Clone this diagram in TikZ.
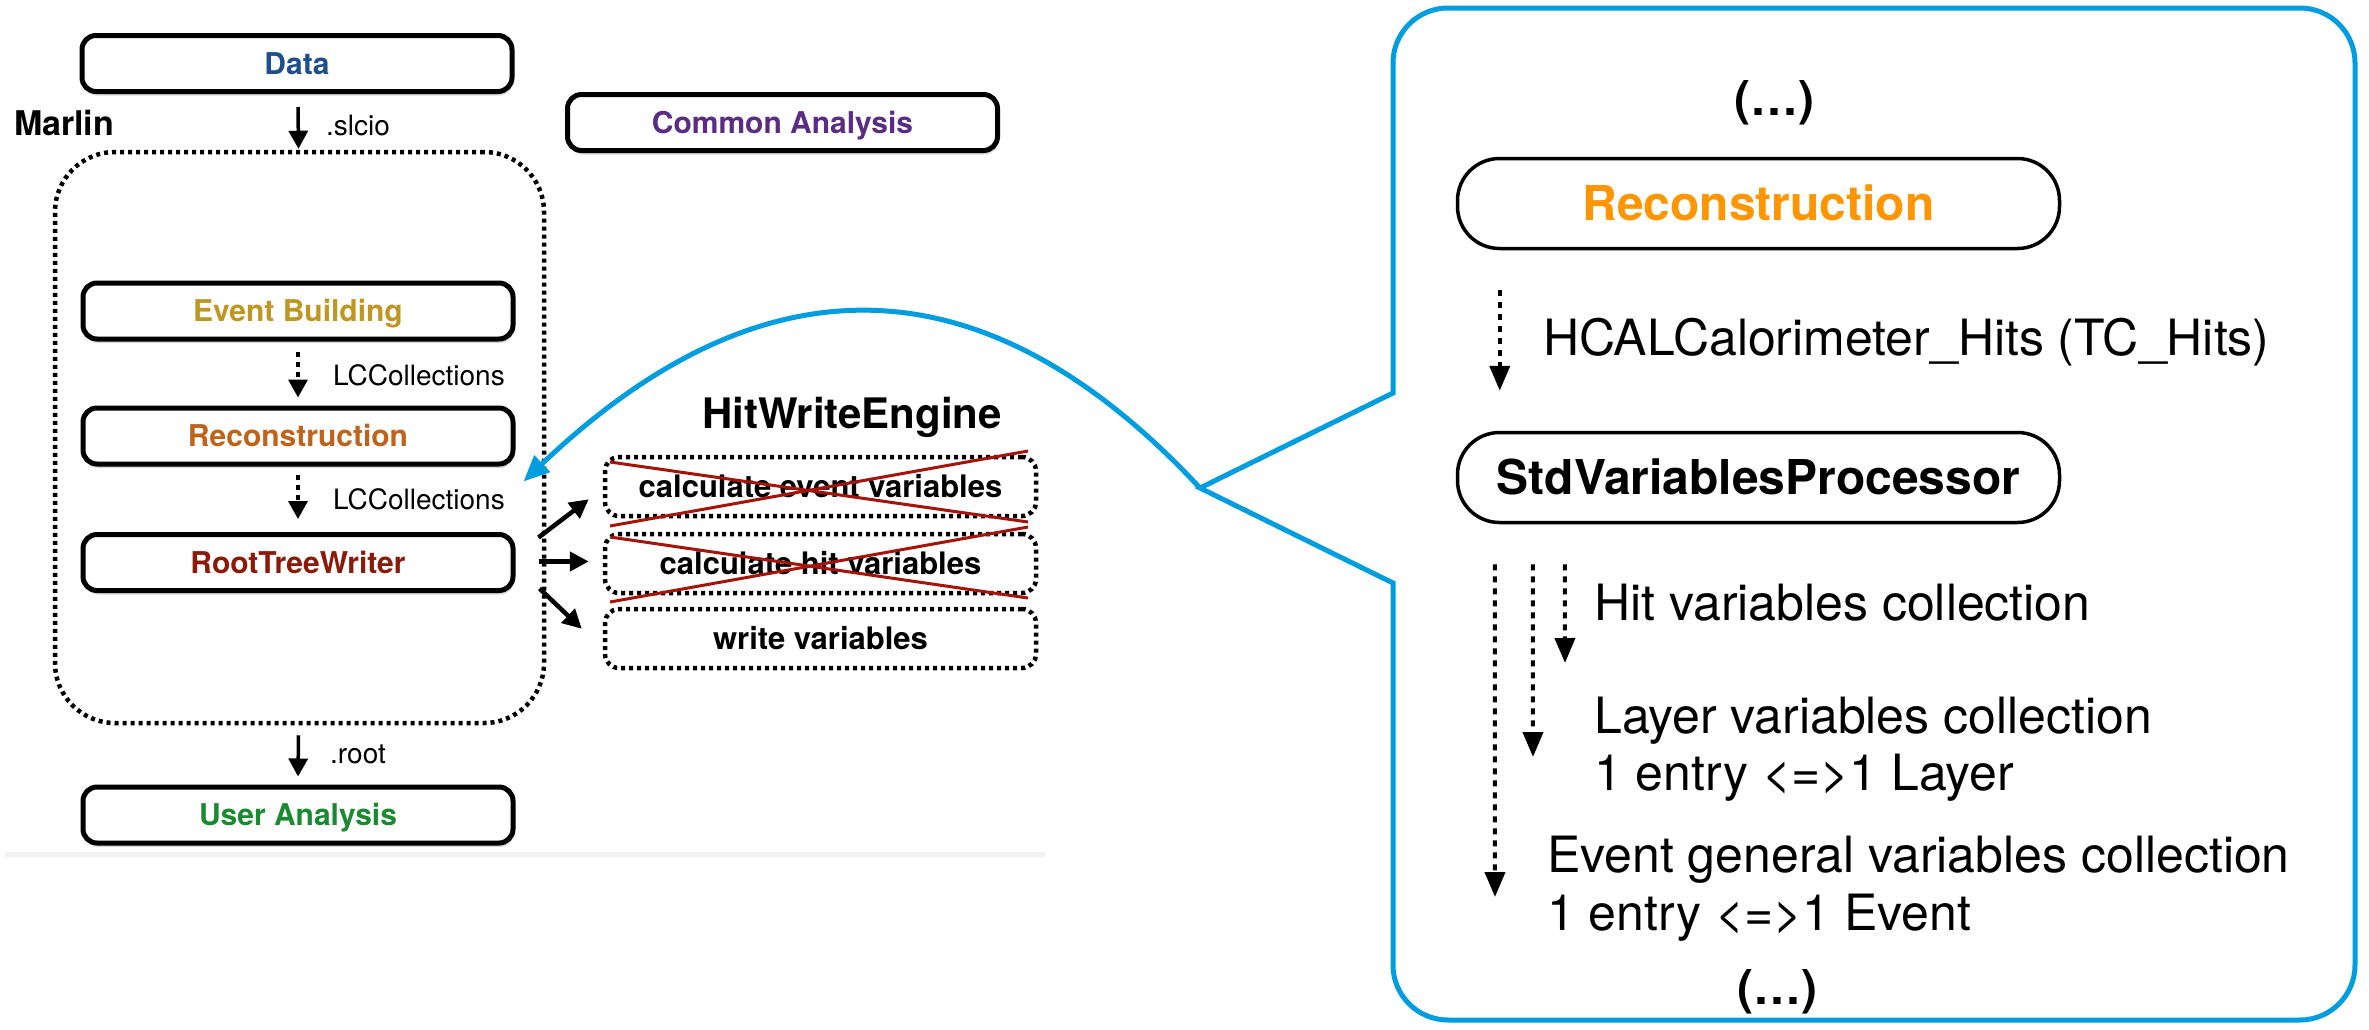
\documentclass[tikz,border=0pt]{standalone}
\usepackage{fontspec}
\setmainfont{TeX Gyre Heros}
\usetikzlibrary{arrows.meta,calc,shadows}
\definecolor{cData}{RGB}{31,78,140}
\definecolor{cCommon}{RGB}{91,44,131}
\definecolor{cEvent}{RGB}{190,150,32}
\definecolor{cReco}{RGB}{192,98,26}
\definecolor{cRoot}{RGB}{139,26,10}
\definecolor{cUser}{RGB}{26,138,48}
\definecolor{cOrange}{RGB}{255,149,0}
\definecolor{cBlue}{RGB}{0,158,224}
\definecolor{cCross}{RGB}{165,20,10}
\definecolor{cStrip}{RGB}{243,243,243}
\begin{document}
\begin{tikzpicture}[x=1pt,y=-1pt,
  lbox/.style={draw, line width=5pt, rounded corners=14pt, minimum width=430pt, minimum height=56pt,
    inner sep=0pt, fill=white, font=\fontsize{30}{36}\selectfont\bfseries, text height=21.5pt, text depth=0pt,
    drop shadow={shadow xshift=1pt, shadow yshift=-4pt, opacity=0.3}},
  dotbox/.style={draw, line width=4.5pt, dash pattern=on 4pt off 4pt, rounded corners=14pt,
    minimum width=431pt, minimum height=59pt, inner sep=0pt,
    font=\fontsize{31}{36}\selectfont\bfseries, text height=22pt, text depth=0pt},
  rbox/.style={draw, line width=3.5pt, rounded corners=42pt, minimum width=602pt, minimum height=90pt,
    inner sep=0pt, font=\fontsize{48}{56}\selectfont\bfseries, text height=34.5pt, text depth=0pt},
  lbl/.style={anchor=base west, inner sep=0pt, font=\fontsize{28}{34}\selectfont},
  rlbl/.style={anchor=base west, inner sep=0pt, font=\fontsize{50}{60}\selectfont},
  arr/.style={line width=3.5pt, -{Triangle[length=18pt,width=19pt]}},
  darr/.style={line width=3.5pt, dash pattern=on 5pt off 5pt, -{Triangle[length=18pt,width=19pt]}},
  warr/.style={line width=4.5pt, -{Triangle[length=19pt,width=19pt]}},
  rdarr/.style={line width=4pt, dash pattern=on 6pt off 6pt, -{Triangle[length=25pt,width=20pt]}},
  cross/.style={draw=cCross, line width=3pt},
  blueline/.style={draw=cBlue, line width=5pt}
]
\useasboundingbox (0,0) rectangle (2369,1029);
\fill[white] (0,0) rectangle (2369,1029);
\fill[cStrip] (5,852) rectangle (1045,857);

% ---- left part ----
\node[lbox, text=cData] (data) at (297,63.5) {Data};
\node[lbox, text=cCommon] (common) at (782.5,122.5) {Common Analysis};
\node[draw, line width=4.5pt, dash pattern=on 4pt off 4pt, rounded corners=60pt,
      minimum width=489pt, minimum height=571pt] (marlin) at (299.5,437.5) {};
\node[anchor=base west, inner sep=0pt, font=\fontsize{34}{40}\selectfont\bfseries] (marlinlbl) at (14,135) {Marlin};

\node[lbox, text=cEvent] (evb) at (298,311) {Event Building};
\node[lbox, text=cReco] (reco) at (298,436) {Reconstruction};
\node[lbox, text=cRoot] (rtw) at (298,562.5) {RootTreeWriter};
\node[lbox, text=cUser] (user) at (298,815) {User Analysis};

\draw[arr] ($(data.south)+(1,13)$) -- ($(marlin.north)+(-1,-1)$);
\node[lbl] (slcio) at (326,135) {.slcio};
\draw[darr] ($(evb.south)+(0,10)$) -- ($(reco.north)+(0,-8)$);
\node[lbl] (lcc1) at (333,385) {LCCollections};
\draw[darr] ($(reco.south)+(0,8)$) -- ($(rtw.north)+(0,-13)$);
\node[lbl] (lcc2) at (333,509) {LCCollections};
\draw[arr] ($(marlin.south)+(-1,10)$) -- ($(user.north)+(0,-8)$);
\node[lbl] (root) at (330,763) {.root};

% ---- HitWriteEngine ----
\node[anchor=base, inner sep=0pt, font=\fontsize{42}{48}\selectfont\bfseries] (hwe) at (852,428) {HitWriteEngine};
\node[dotbox] (hw1) at (820.5,486.5) {calculate event variables};
\node[dotbox] (hw2) at (820.5,563.5) {calculate hit variables};
\node[dotbox] (hw3) at (820.5,638.5) {write variables};
\draw[cross] (610,462) -- (1028,522);
\draw[cross] (610,526) -- (1028,451);
\draw[cross] (610,537) -- (1028,598);
\draw[cross] (610,602) -- (1028,527);

\draw[warr] ($(rtw.east)+(23,-25)$) -- ($(hw1.south west)+(-14,-19)$);
\draw[warr] ($(rtw.east)+(23,-1)$) -- ($(hw2.west)+(-14,-2)$);
\draw[warr] ($(rtw.east)+(24,26)$) -- ($(hw3.north west)+(-21,22)$);

% ---- callout ----
\coordinate (notch) at (1200,488);
\coordinate (tip) at ($(reco.south east)+(8,15)$);
\draw[blueline, -{Triangle[length=26pt,width=22pt]}] (notch) .. controls (960,230) and (735,280) .. (tip);
\draw[blueline, line join=miter] (1393,393) -- (1393,300) [rounded corners=55pt] -- (1393,8) -- (2355,8)
   -- (2355,1020) -- (1393,1020) -- (1393,700) [sharp corners] -- (1393,583) -- (notch) -- cycle;

\node[anchor=base, inner sep=0pt, font=\fontsize{48}{56}\selectfont\bfseries] (dots1) at (1774,115) {(…)};
\node[rbox, text=cOrange] (rreco) at (1758.5,203.5) {Reconstruction};
\node[rbox] (std) at (1758.5,477.5) {StdVariablesProcessor};
\draw[rdarr] ($(rreco.south west)+(44,40)$) -- ($(std.north west)+(44,-40)$);
\node[rlbl] (hcal) at (1543,355) {HCALCalorimeter\_Hits (TC\_Hits)};

\coordinate (e1) at (1495,897);
\coordinate (e2) at (1533,757);
\coordinate (e3) at (1565,663);
\draw[rdarr] ($(std.south west)+(39,40)$) -- (e1);
\draw[rdarr] ($(std.south west)+(77,40)$) -- (e2);
\draw[rdarr] ($(std.south west)+(109,40)$) -- (e3);

\node[rlbl] (hitv) at (1594,620) {Hit variables collection};
\node[rlbl] (layv) at (1594,733) {Layer variables collection};
\node[rlbl] (lay1) at (1594,790) {1 entry <=>1 Layer};
\node[rlbl] (evv) at (1547,872) {Event general variables collection};
\node[rlbl] (ev1) at (1547,930) {1 entry <=>1 Event};
\node[anchor=base, inner sep=0pt, font=\fontsize{48}{56}\selectfont\bfseries] (dots2) at (1777,1004) {(…)};
\end{tikzpicture}
\end{document}
